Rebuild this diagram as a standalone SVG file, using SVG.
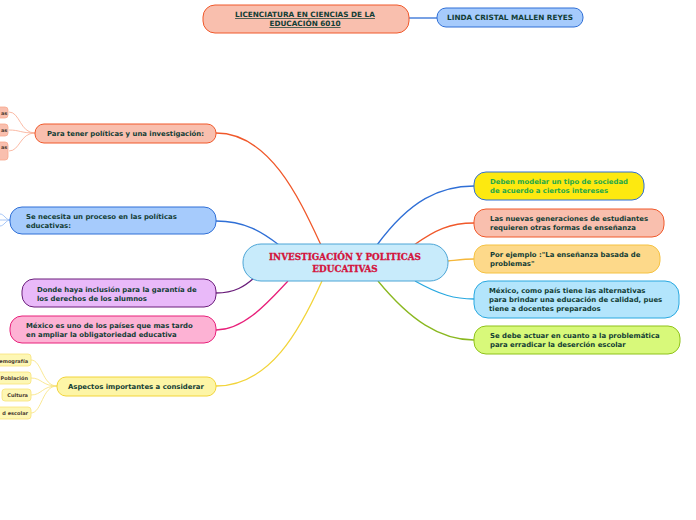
<svg xmlns="http://www.w3.org/2000/svg" width="696" height="520" viewBox="0 0 696 520">
<style>
.t{font-family:"DejaVu Sans",Verdana,sans-serif;font-weight:bold;font-size:6.9px;fill:#123d35}
.u{font-size:7.3px}
.k{font-size:5px;fill:#4a3a30}
.c{fill:none;stroke-width:1.3}
.s{fill:none;stroke-width:0.8}
.ct{font-family:'DejaVu Serif Condensed','DejaVu Serif',serif;font-weight:bold;font-size:9.8px;fill:#d3143c;stroke:#d3143c;stroke-width:0.3}
</style>
<rect width="696" height="520" fill="#ffffff"/>
<g id="connectors">
<path class="c" d="M409,18 L437,18" stroke="#2f6fd6"/>
<path class="c" d="M216,133 C270,133 300,200 321,245" stroke="#f0582a"/>
<path class="c" d="M216,221 C245,221 262,232 279,245" stroke="#2f6fd6"/>
<path class="c" d="M216,293 C235,293 245,286 254,278" stroke="#6a1d7a"/>
<path class="c" d="M216,330 C245,330 270,300 288,281" stroke="#e8207a"/>
<path class="c" d="M216,386 C270,386 300,330 322,281" stroke="#f2d43a"/>
<path class="c" d="M377,245 C410,200 440,186 474,186" stroke="#2f6fd6"/>
<path class="c" d="M414,245 C435,230 450,223 474,223" stroke="#f0582a"/>
<path class="c" d="M448,261 C458,260 465,259 474,259" stroke="#f5b73a"/>
<path class="c" d="M415,281 C440,295 455,299 474,299" stroke="#28a8e0"/>
<path class="c" d="M378,281 C410,320 440,340 474,340" stroke="#8ab820"/>
<path class="s" d="M35,133 C20,133 20,112 9,112" stroke="#f9a88e"/>
<path class="s" d="M35,133 C20,133 20,130 9,130" stroke="#f9a88e"/>
<path class="s" d="M35,133 C20,133 20,151 9,151" stroke="#f9a88e"/>
<path class="s" d="M10,220 C6,220 4,214 0,214" stroke="#8fb7f5"/>
<path class="s" d="M10,220 C6,220 4,220 0,220" stroke="#8fb7f5"/>
<path class="s" d="M10,220 C6,220 4,226 0,226" stroke="#8fb7f5"/>
<path class="s" d="M57,386 C42,386 42,360 31,360" stroke="#f7e27a"/>
<path class="s" d="M57,386 C42,386 42,378 31,378" stroke="#f7e27a"/>
<path class="s" d="M57,386 C42,386 42,395 31,395" stroke="#f7e27a"/>
<path class="s" d="M57,386 C42,386 42,413 31,413" stroke="#f7e27a"/>
</g>
<g id="center">
<rect x="243" y="244" width="205" height="37" rx="18" fill="#c8ebfb" stroke="#4ca5d6" stroke-width="1"/>
<text class="ct" x="345" y="259.5" text-anchor="middle">INVESTIGACIÓN Y POLITICAS</text>
<text class="ct" x="345" y="271.5" text-anchor="middle">EDUCATIVAS</text>
</g>
<g id="top">
<rect x="203" y="5" width="206" height="28" rx="12" fill="#f9bfae" stroke="#f0582a"/>
<text class="t u" x="305" y="17" text-anchor="middle" text-decoration="underline">LICENCIATURA EN CIENCIAS DE LA </text>
<text class="t u" x="305" y="26" text-anchor="middle" text-decoration="underline">EDUCACIÓN 6010</text>
</g>
<g id="linda">
<rect x="437" y="8" width="146" height="19" rx="9" fill="#a6cbfc" stroke="#2f6fd6"/>
<text class="t u" x="510" y="20" text-anchor="middle">LINDA CRISTAL MALLEN REYES</text>
</g>
<g id="para">
<rect x="35" y="124" width="181" height="19" rx="9" fill="#f9bfae" stroke="#f0582a"/>
<text class="t" x="47" y="136">Para tener políticas y una investigación:</text>
</g>
<g id="para-c1"><rect x="-10" y="107" width="18" height="11" rx="3" fill="#f9bfae" stroke="#f9a88e" stroke-width="0.8"/><text class="t k" x="1" y="114.5">as</text></g>
<g id="para-c2"><rect x="-10" y="124" width="18" height="12" rx="3" fill="#f9bfae" stroke="#f9a88e" stroke-width="0.8"/><text class="t k" x="1" y="131.5">as</text></g>
<g id="para-c3"><rect x="-10" y="142" width="18" height="18" rx="3" fill="#f9bfae" stroke="#f9a88e" stroke-width="0.8"/><text class="t k" x="1" y="149">as</text></g>
<g id="necesita">
<rect x="10" y="207" width="206" height="27" rx="12" fill="#a6cbfc" stroke="#2f6fd6"/>
<text class="t" x="26" y="219">Se necesita un proceso en las políticas</text>
<text class="t" x="26" y="228">educativas:</text>
</g>
<g id="donde">
<rect x="22" y="279" width="194" height="28" rx="12" fill="#e9b9f9" stroke="#6a1d7a"/>
<text class="t" x="37" y="292">Donde haya inclusión para la garantía de</text>
<text class="t" x="37" y="301">los derechos de los alumnos</text>
</g>
<g id="mexico1">
<rect x="10" y="316" width="206" height="27" rx="12" fill="#fdb2d4" stroke="#e8207a"/>
<text class="t" x="26" y="328">México es uno de los países que mas tardo</text>
<text class="t" x="26" y="337">en ampliar la obligatoriedad educativa</text>
</g>
<g id="aspectos">
<rect x="57" y="377" width="159" height="19" rx="9" fill="#fdf5a6" stroke="#f2d43a"/>
<text class="t" x="68" y="389">Aspectos importantes a considerar</text>
</g>
<g id="asp-c1"><rect x="-10" y="354" width="41" height="12" rx="3" fill="#fdf7b4" stroke="#f7e27a" stroke-width="0.8"/><text class="t k" x="28" y="362.5" text-anchor="end">emografía</text></g>
<g id="asp-c2"><rect x="-10" y="372" width="41" height="12" rx="3" fill="#fdf7b4" stroke="#f7e27a" stroke-width="0.8"/><text class="t k" x="28" y="380" text-anchor="end">Población</text></g>
<g id="asp-c3"><rect x="2" y="389" width="29" height="12" rx="3" fill="#fdf7b4" stroke="#f7e27a" stroke-width="0.8"/><text class="t k" x="28" y="397" text-anchor="end">Cultura</text></g>
<g id="asp-c4"><rect x="-20" y="407" width="51" height="12" rx="3" fill="#fdf7b4" stroke="#f7e27a" stroke-width="0.8"/><text class="t k" x="28" y="415" text-anchor="end">d escolar</text></g>
<g id="deben">
<rect x="474" y="172" width="170" height="28" rx="12" fill="#fde910" stroke="#2f6fd6"/>
<text class="t" x="490" y="184" style="fill:#1fa84a">Deben modelar un tipo de sociedad</text>
<text class="t" x="490" y="193" style="fill:#1fa84a">de acuerdo a ciertos intereses</text>
</g>
<g id="nuevas">
<rect x="474" y="209" width="190" height="28" rx="12" fill="#f9bfae" stroke="#f0582a"/>
<text class="t" x="490" y="221">Las nuevas generaciones de estudiantes</text>
<text class="t" x="490" y="230">requieren otras formas de enseñanza</text>
</g>
<g id="ejemplo">
<rect x="474" y="245" width="186" height="28" rx="12" fill="#fdd98a" stroke="#f5c242"/>
<text class="t" x="490" y="257">Por ejemplo :"La enseñanza basada de</text>
<text class="t" x="490" y="266">problemas"</text>
</g>
<g id="mexico2">
<rect x="474" y="281" width="205" height="37" rx="14" fill="#b3e5fc" stroke="#28a8e0"/>
<text class="t" x="489" y="293">México, como país tiene las alternativas</text>
<text class="t" x="489" y="302">para brindar una educación de calidad, pues</text>
<text class="t" x="489" y="311">tiene a docentes preparados</text>
</g>
<g id="actuar">
<rect x="474" y="326" width="206" height="28" rx="12" fill="#d8f97a" stroke="#8fc21a"/>
<text class="t" x="490" y="338">Se debe actuar en cuanto a la problemática</text>
<text class="t" x="490" y="347">para erradicar la deserción escolar</text>
</g>
</svg>
